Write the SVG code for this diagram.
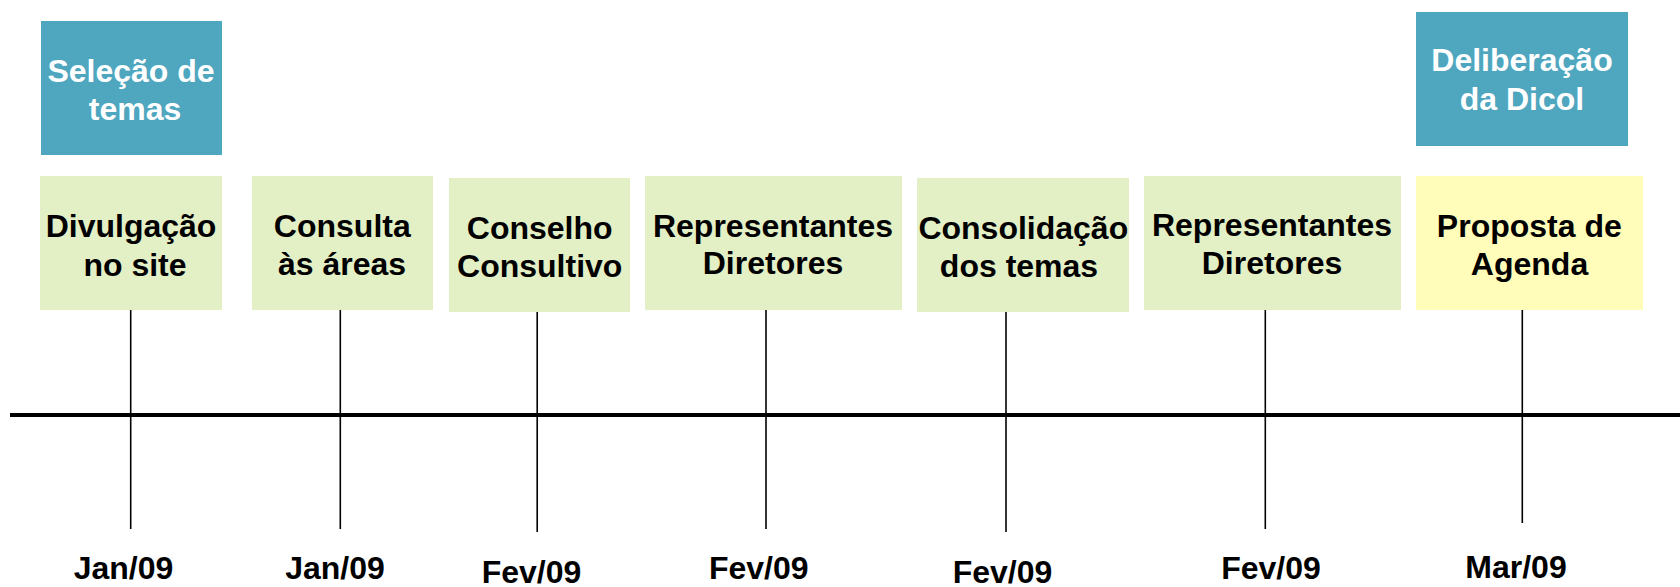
<svg xmlns="http://www.w3.org/2000/svg" width="1680" height="587" viewBox="0 0 1680 587">
  <style>
    .teal { fill: #4FA6BF; }
    .green { fill: #E3EFC5; }
    .yellow { fill: #FFFDB9; }
    text { font-family: "Liberation Sans", Arial, sans-serif; font-weight: bold; font-size: 32px; text-anchor: middle; }
    .w { fill: #FFFFFF; }
    .k { fill: #000000; }
    .tick { stroke: #000000; stroke-width: 1.6; fill: none; }
    .axis { stroke: #000000; stroke-width: 4; fill: none; }
  </style>
  <rect width="1680" height="587" fill="#FFFFFF"/>

  <g id="connectors">
    <line class="axis" x1="10" y1="415" x2="1680" y2="415"/>
    <line class="tick" x1="130.7" y1="310" x2="130.7" y2="529"/>
    <line class="tick" x1="340.3" y1="310" x2="340.3" y2="529"/>
    <line class="tick" x1="537.2" y1="312" x2="537.2" y2="532"/>
    <line class="tick" x1="766" y1="310" x2="766" y2="529"/>
    <line class="tick" x1="1006" y1="312" x2="1006" y2="532"/>
    <line class="tick" x1="1265.3" y1="310" x2="1265.3" y2="529"/>
    <line class="tick" x1="1522.3" y1="310" x2="1522.3" y2="523"/>
  </g>

  <g id="selecao">
    <rect class="teal" x="41" y="21" width="181" height="134"/>
    <text class="w" x="131" y="81.7">Seleção de</text>
    <text class="w" x="135" y="119.5">temas</text>
  </g>

  <g id="deliberacao">
    <rect class="teal" x="1416" y="12" width="212" height="134"/>
    <text class="w" x="1522" y="71">Deliberação</text>
    <text class="w" x="1522" y="110">da Dicol</text>
  </g>

  <g id="divulgacao">
    <rect class="green" x="40" y="176" width="182" height="134"/>
    <text class="k" x="131" y="237.3">Divulgação</text>
    <text class="k" x="135" y="276">no site</text>
  </g>

  <g id="consulta">
    <rect class="green" x="252" y="176" width="181" height="134"/>
    <text class="k" x="342.3" y="236.7">Consulta</text>
    <text class="k" x="342" y="275">às áreas</text>
  </g>

  <g id="conselho">
    <rect class="green" x="449" y="178" width="181" height="134"/>
    <text class="k" x="539.7" y="239">Conselho</text>
    <text class="k" x="539.7" y="276.7">Consultivo</text>
  </g>

  <g id="representantes1">
    <rect class="green" x="645" y="176" width="257" height="134"/>
    <text class="k" x="773" y="236.7">Representantes</text>
    <text class="k" x="773" y="274.3">Diretores</text>
  </g>

  <g id="consolidacao">
    <rect class="green" x="917" y="178" width="212" height="134"/>
    <text class="k" x="1023.3" y="239">Consolidação</text>
    <text class="k" x="1019" y="276.7">dos temas</text>
  </g>

  <g id="representantes2">
    <rect class="green" x="1144" y="176" width="257" height="134"/>
    <text class="k" x="1272" y="236">Representantes</text>
    <text class="k" x="1272" y="274">Diretores</text>
  </g>

  <g id="proposta">
    <rect class="yellow" x="1416" y="176" width="227" height="134"/>
    <text class="k" x="1529.3" y="237.3">Proposta de</text>
    <text class="k" x="1529.5" y="275">Agenda</text>
  </g>

  <g id="dates">
    <text class="k" x="123.5" y="579">Jan/09</text>
    <text class="k" x="335" y="579">Jan/09</text>
    <text class="k" x="531.5" y="582.5">Fev/09</text>
    <text class="k" x="758.7" y="579">Fev/09</text>
    <text class="k" x="1002.5" y="582.5">Fev/09</text>
    <text class="k" x="1271" y="579">Fev/09</text>
    <text class="k" x="1516" y="577.5">Mar/09</text>
  </g>
</svg>
